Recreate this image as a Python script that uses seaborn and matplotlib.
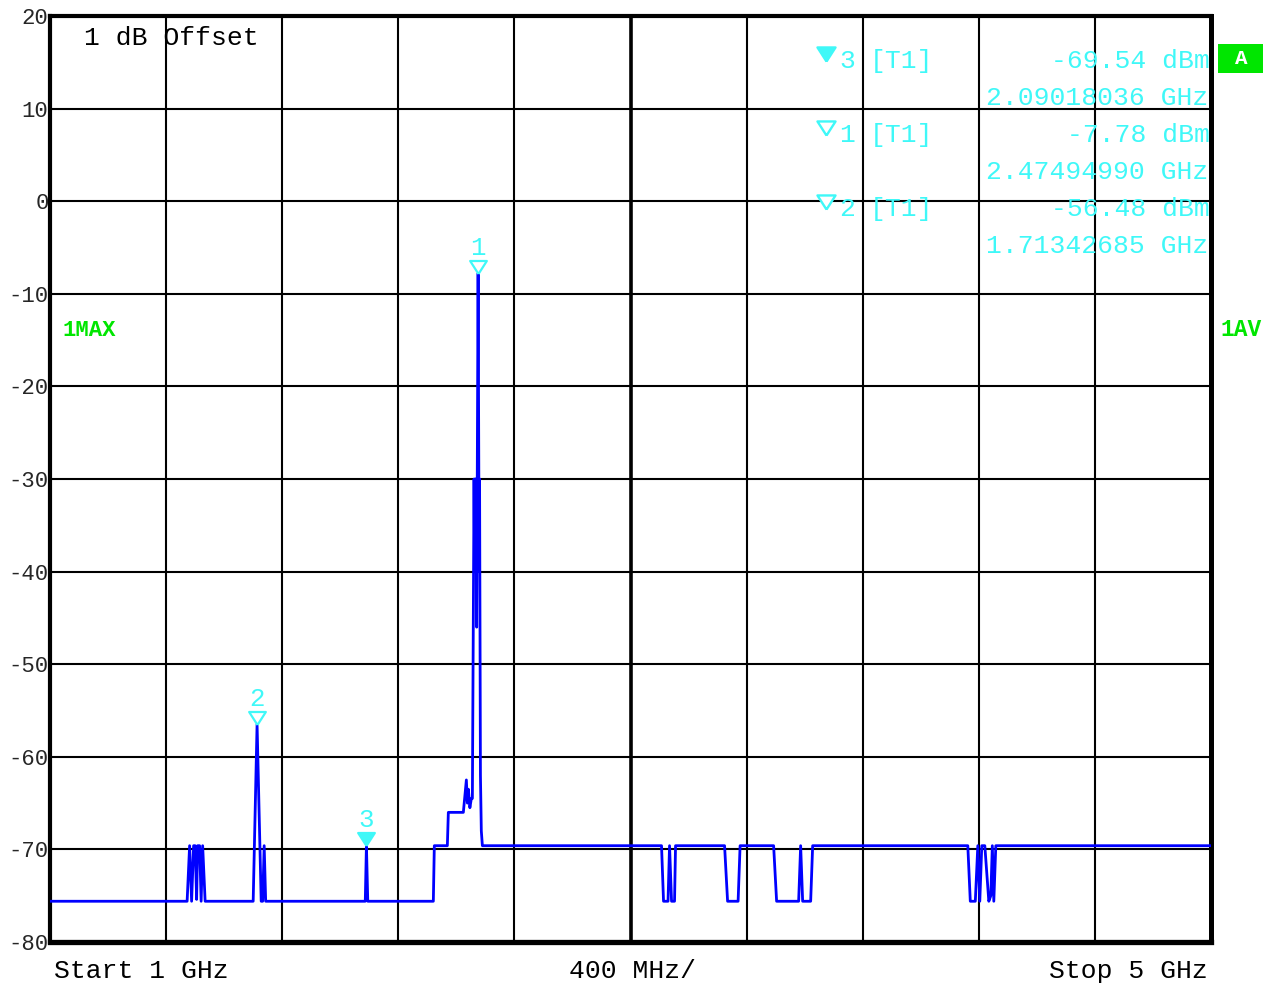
import numpy as np
import pandas as pd
import matplotlib
matplotlib.use("Agg")
import matplotlib.pyplot as plt
from matplotlib.transforms import offset_copy
from matplotlib.patches import Rectangle
import seaborn as sns

# ---------------- data ----------------
LO, HI = -75.6, -69.6
freq_ghz = [1.0000, 1.4724, 1.4810, 1.4879, 1.4948, 1.5000, 1.5052, 1.5086, 1.5155, 1.5207, 1.5259, 1.5345,
            1.7000, 1.71342685, 1.7276, 1.7328, 1.7379, 1.7431,
            2.0862, 2.09018036, 2.0948,
            2.3207, 2.3241, 2.3690, 2.3724, 2.4241, 2.4345, 2.4380, 2.4414, 2.4466, 2.4517, 2.4552,
            2.4610, 2.4630, 2.4650, 2.4665, 2.4680, 2.4700, 2.4720, 2.47494990, 2.4775, 2.4790, 2.4800,
            2.4830, 2.4860, 2.4897,
            3.1069, 3.1138, 3.1293, 3.1345, 3.1414, 3.1517, 3.1552,
            3.3241, 3.3345, 3.3707, 3.3776,
            3.4931, 3.5034, 3.5793, 3.5862, 3.5931, 3.6207, 3.6276,
            4.1621, 4.1707, 4.1880, 4.1966, 4.2034, 4.2103, 4.2207, 4.2345, 4.2414, 4.2466, 4.2517, 4.2586,
            5.0000]
level_dbm = [LO, LO, HI, LO, HI, HI, -75.4, HI, HI, LO, HI, LO,
             LO, -56.48, LO, LO, HI, LO,
             LO, -69.54, LO,
             LO, HI, HI, -66.0, -66.0, -62.5, -65.0, -63.5, -65.5, -64.5, -64.5,
             -30.0, -40.0, -30.0, -38.0, -30.0, -46.0, -30.0, -7.78, -30.0, -40.0, -30.0,
             -62.0, -68.0, HI,
             HI, LO, LO, HI, LO, LO, HI,
             HI, LO, LO, HI,
             HI, LO, LO, HI, LO, LO, HI,
             HI, LO, LO, HI, LO, HI, HI, LO, -75.0, HI, LO, HI,
             HI]

marker_ids = ["1", "2", "3"]
marker_freq = [2.47494990, 1.71342685, 2.09018036]
marker_level = [-7.78, -56.48, -69.54]
marker_filled = [False, False, True]

table_ids = ["3", "1", "2"]
table_level_txt = ["-69.54 dBm", "-7.78 dBm", "-56.48 dBm"]
table_freq_txt = ["2.09018036 GHz", "2.47494990 GHz", "1.71342685 GHz"]
table_filled = [True, False, False]

ytick_vals = [20, 10, 0, -10, -20, -30, -40, -50, -60, -70, -80]
ytick_labels = ["20", "10", "0", "-10", "-20", "-30", "-40", "-50", "-60", "-70", "-80"]
xgrid_vals = [1.4, 1.8, 2.2, 2.6, 3.0, 3.4, 3.8, 4.2, 4.6]

# ---------------- style ----------------
sns.set_style("white")
plt.rcParams['font.family'] = ['Liberation Mono', 'DejaVu Sans']

W, H = 1276, 985
fig = plt.figure(figsize=(W / 100, H / 100), dpi=100)
L, R, T, B = 50, 1211, 16, 942
ax = fig.add_axes([L / W, 1 - B / H, (R - L) / W, (B - T) / H])

CYAN = '#3ff8f8'
GREEN = '#00e600'

def fx(px):
    return px / W

def fy(py):
    return 1 - py / H

# grid
for xv in xgrid_vals:
    ax.axvline(xv, color='black', lw=2.6 if abs(xv - 3.0) < 1e-9 else 1.5, zorder=1)
for yv in ytick_vals[1:-1]:
    ax.axhline(yv, color='black', lw=1.5, zorder=1)

df = pd.DataFrame({"freq": freq_ghz, "level": level_dbm})
sns.lineplot(data=df, x="freq", y="level", ax=ax, color='#0000ff', linewidth=2.0,
             estimator=None, sort=False, legend=False, zorder=3)

ax.set_xlim(1.0, 5.0)
ax.set_ylim(-80, 20)
ax.set_xticks([])
ax.set_yticks(ytick_vals)
ax.set_yticklabels(ytick_labels, fontsize=16)
ax.tick_params(axis='y', length=0, pad=1)
ax.set_xlabel("")
ax.set_ylabel("")
for side, lw in [('left', 3.0), ('top', 3.0), ('right', 3.6), ('bottom', 3.8)]:
    ax.spines[side].set_visible(True)
    ax.spines[side].set_color('black')
    ax.spines[side].set_linewidth(lw)

# marker triangles on trace
tri = [(0, -0.78), (-1, 0.78), (1, 0.78), (0, -0.78)]
ms = 12
tri_tr = offset_copy(ax.transData, fig=fig, y=0.39 * ms, units='points')
lab_tr = offset_copy(ax.transData, fig=fig, y=13.0, units='points')
for mid, mf, ml, filled in zip(marker_ids, marker_freq, marker_level, marker_filled):
    ax.plot([mf], [ml], marker=tri, markersize=ms, linestyle='none',
            markerfacecolor=CYAN if filled else 'white', markeredgecolor=CYAN,
            markeredgewidth=1.6, transform=tri_tr, zorder=5, clip_on=False)
    ax.text(mf, ml, mid, transform=lab_tr, color=CYAN, fontsize=18.5,
            ha='center', va='baseline', zorder=6)

# marker table
row0 = 68
step = 37
for i, (tid, lv, fq, filled) in enumerate(zip(table_ids, table_level_txt, table_freq_txt, table_filled)):
    b1 = row0 + 2 * i * step
    b2 = b1 + step
    ax.plot([fx(826)], [fy(b1 - 14)], marker=tri, markersize=13, linestyle='none',
            markerfacecolor=CYAN if filled else 'white', markeredgecolor=CYAN,
            markeredgewidth=1.7, transform=fig.transFigure, clip_on=False, zorder=6)
    fig.text(fx(839), fy(b1), tid, color=CYAN, fontsize=19, ha='left', va='baseline')
    fig.text(fx(870), fy(b1), "[T1]", color=CYAN, fontsize=19, ha='left', va='baseline')
    fig.text(fx(1210), fy(b1), lv, color=CYAN, fontsize=19, ha='right', va='baseline')
    fig.text(fx(1208), fy(b2), fq, color=CYAN, fontsize=19, ha='right', va='baseline')

# header / side texts
fig.text(fx(84), fy(45), "1 dB Offset", color='black', fontsize=19, ha='left', va='baseline')
fig.text(fx(63), fy(336), "1MAX", color=GREEN, fontsize=16, fontweight='bold', ha='left', va='baseline')
fig.text(fx(1221), fy(336), "1AV", color=GREEN, fontsize=16.5, fontweight='bold', ha='left', va='baseline')
fig.patches.append(Rectangle((fx(1218), fy(73)), (1263 - 1218) / W, (73 - 44) / H,
                             transform=fig.transFigure, facecolor=GREEN, edgecolor='none'))
fig.text(fx(1241), fy(59), "A", color='white', fontsize=15, fontweight='bold', ha='center', va='center')

# bottom labels
fig.text(fx(54), fy(978), "Start 1 GHz", color='black', fontsize=19, ha='left', va='baseline')
fig.text(fx(569), fy(978), "400 MHz/", color='black', fontsize=19, ha='left', va='baseline')
fig.text(fx(1208), fy(978), "Stop 5 GHz", color='black', fontsize=19, ha='right', va='baseline')

fig.savefig("out.png", dpi=100)
